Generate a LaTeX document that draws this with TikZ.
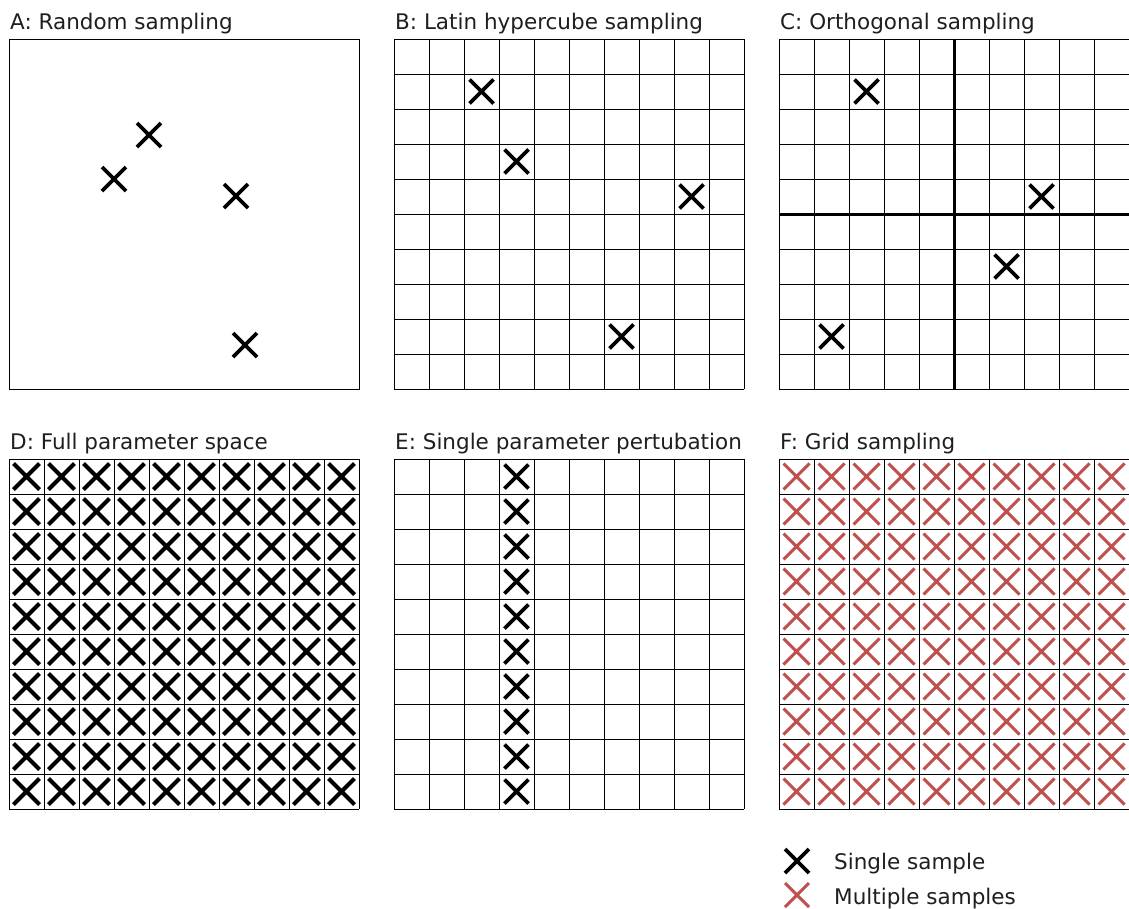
\documentclass[tikz,border=0pt]{standalone}
\usepackage{fontspec}
\setmainfont{DejaVu Sans}
\definecolor{xred}{HTML}{C0504D}
\begin{document}
\begin{tikzpicture}[x=1pt,y=-1pt,
  title/.style={anchor=base west,inner sep=0pt,font=\fontsize{21.5}{25}\selectfont,text=black!88},
  legtext/.style={anchor=base west,inner sep=0pt,font=\fontsize{21.5}{25}\selectfont,text=black!88},
  gline/.style={draw=black,line width=1pt},
  thick line/.style={draw=black,line width=3pt},
  xm/.pic={\draw[line width=3.8pt,line cap=butt,#1] (-12,-12) -- (12,12) (-12,12) -- (12,-12);},
  xm/.default={black},
]
\useasboundingbox[fill=white] (0,0) rectangle (1129,908);
% titles
\node[title] (tA) at (10,29) {A: Random sampling};
\node[title] (tB) at (395,29) {B: Latin hypercube sampling};
\node[title] (tC) at (780,29) {C: Orthogonal sampling};
\node[title] (tD) at (10,449) {D: Full parameter space};
\node[title] (tE) at (395,449) {E: Single parameter pertubation};
\node[title] (tF) at (780,449) {F: Grid sampling};
% A
\draw[gline] (9,39) rectangle (359,389);
\pic at (149,135) {xm};
\pic at (114,179) {xm};
\pic at (236,196) {xm};
\pic at (245,345) {xm};
% grids B, C, D, E, F
\foreach \ox/\oy in {394/39,779/39,9/459,394/459,779/459}{
  \foreach \i in {0,...,10}{
    \draw[gline] (\ox+35*\i,\oy) -- (\ox+35*\i,\oy+350);
    \draw[gline] (\ox,\oy+35*\i) -- (\ox+350,\oy+35*\i);
  }
}
% B
\foreach \c/\r in {2/1,3/3,8/4,6/8}{\pic at (394+35*\c+17.5,39+35*\r+17.5) {xm};}
% C
\draw[thick line] (954,39) -- (954,389);
\draw[thick line] (779,214) -- (1129,214);
\foreach \c/\r in {2/1,7/4,6/6,1/8}{\pic at (779+35*\c+17.5,39+35*\r+17.5) {xm};}
% D
\foreach \c in {0,...,9}{\foreach \r in {0,...,9}{
  \draw[line width=4pt] (9+35*\c+4.5,459+35*\r+4.5) -- ++(26,26) (9+35*\c+4.5,459+35*\r+30.5) -- ++(26,-26);}}
% E
\foreach \r in {0,...,9}{\pic at (394+35*3+17.5,459+35*\r+17.5) {xm};}
% F
\foreach \c in {0,...,9}{\foreach \r in {0,...,9}{
  \draw[xred,line width=3pt] (779+35*\c+4.5,459+35*\r+4.5) -- ++(26,26) (779+35*\c+4.5,459+35*\r+30.5) -- ++(26,-26);}}
% legend
\pic at (797,861) {xm};
\pic at (797,895) {xm={xred,line width=3pt}};
\node[legtext] (l1) at (834,869) {Single sample};
\node[legtext] (l2) at (834,904) {Multiple samples};
\end{tikzpicture}
\end{document}
